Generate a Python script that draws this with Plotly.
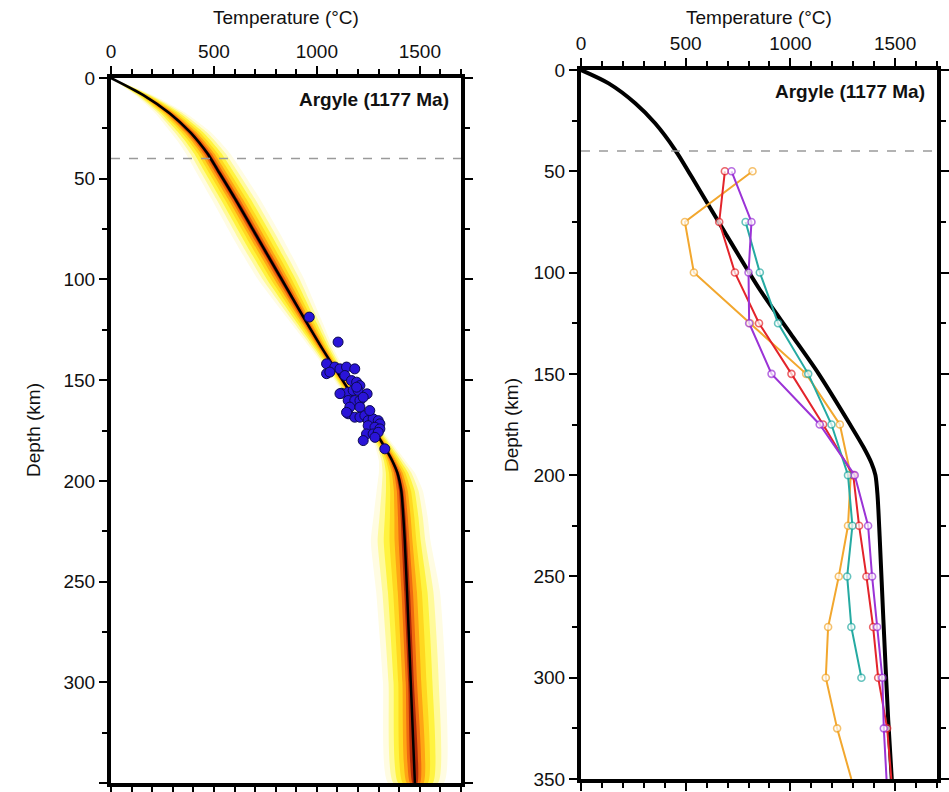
import plotly.graph_objects as go

# ---------------- Data ----------------
# Left panel: best-fit geotherm (depth km, temperature C)
geo_left_depth = [0, 8.5, 17.6, 26.7, 32, 37.4, 45.7, 60, 80, 100, 120, 135, 150, 165, 175, 183, 190, 196, 205, 218, 230, 255, 300, 350]
geo_left_temp = [0, 157, 286, 383, 428, 468, 518, 603, 716, 829, 942, 1030, 1124, 1218, 1280, 1328, 1366, 1391, 1410, 1420, 1427, 1438, 1456, 1476]
# spread of the probability envelope (C) to the cold / hot side at the same depths
env_cold = [2, 40, 70, 95, 100, 105, 110, 115, 120, 115, 80, 55, 40, 35, 35, 45, 65, 90, 120, 145, 165, 150, 135, 130]
env_hot = [2, 45, 80, 100, 105, 110, 115, 120, 120, 110, 80, 55, 40, 35, 40, 50, 65, 85, 105, 118, 125, 160, 170, 140]

# Xenolith P-T estimates
xen_temp = [963, 1103, 1047, 1047, 1087, 1112, 1144, 1184, 1136, 1168, 1193, 1209, 1120, 1152, 1176, 1200,
            1244, 1152, 1184, 1209, 1160, 1209, 1152, 1184, 1209, 1233, 1249, 1273, 1298, 1306, 1249, 1282,
            1306, 1241, 1273, 1298, 1225, 1282, 1330, 1193, 1225, 1257, 1063, 1112, 1144]
xen_depth = [118.7, 131.1, 141.9, 146.8, 143.5, 144.4, 143.5, 144.4, 147.7, 150.2, 151.0, 152.7, 156.5, 156.0,
             155.1, 155.1, 156.8, 160.1, 160.1, 160.1, 163.4, 163.4, 166.7, 168.4, 168.4, 167.6, 170.1, 169.2,
             170.1, 171.7, 172.6, 173.4, 174.2, 176.7, 176.7, 175.9, 180.0, 178.4, 184.1, 153.5, 158.5, 165.1,
             146.0, 156.7, 166.0]

# Right panel: geotherm
geo_right_depth = [0, 6.6, 16.4, 26.3, 39.5, 58.4, 80, 108.6, 130, 150, 175, 186, 194, 200, 210, 230, 271.5, 320.8, 350]
geo_right_temp = [0, 132, 259, 354, 450, 561, 686, 855, 1000, 1135, 1285, 1348, 1387, 1406, 1416, 1426, 1444, 1467, 1484]

# Right panel: temperature profiles from seismic models
prof_depth = [50, 75, 100, 125, 150, 175, 200, 225, 250, 275, 300, 325, 350]
prof_orange = [819, 496, 539, 808, 1075, 1236, 1288, 1275, 1231, 1180, 1169, 1223, 1291]
prof_red = [687, 660, 735, 850, 1005, 1156, 1300, 1328, 1363, 1395, 1419, 1462, 1482]
prof_teal_depth = [75, 100, 125, 150, 175, 200, 225, 250, 275, 300]
prof_teal = [786, 854, 941, 1085, 1196, 1275, 1296, 1271, 1291, 1339]
prof_purple = [719, 814, 800, 803, 910, 1140, 1307, 1371, 1390, 1414, 1439, 1446, 1459]

moho_depth = 40
panel_label = "Argyle (1177 Ma)"
x_title = "Temperature (°C)"
y_title = "Depth (km)"

# ---------------- Figure ----------------
FONT = "Liberation Sans, Arial, sans-serif"
fig = go.Figure()

# envelope layers, outermost first
layers = [(1.0, "#fffce2"), (0.8, "#fffa9a"), (0.62, "#fff340"), (0.45, "#ffd820"),
          (0.3, "#ffa514"), (0.18, "#f06a10"), (0.09, "#b02808")]
for frac, col in layers:
    xs = [t - frac * c for t, c in zip(geo_left_temp, env_cold)] + \
         [t + frac * h for t, h in zip(geo_left_temp[::-1], env_hot[::-1])]
    ys = list(geo_left_depth) + list(geo_left_depth[::-1])
    fig.add_trace(go.Scatter(x=xs, y=ys, fill="toself", fillcolor=col, mode="lines",
                             line=dict(width=0, color=col, shape="spline", smoothing=0.5),
                             hoverinfo="skip", showlegend=False, xaxis="x", yaxis="y"))

fig.add_trace(go.Scatter(x=geo_left_temp, y=geo_left_depth, mode="lines",
                         line=dict(color="black", width=2.5, shape="spline", smoothing=0.8),
                         showlegend=False, xaxis="x", yaxis="y"))
fig.add_trace(go.Scatter(x=xen_temp, y=xen_depth, mode="markers",
                         marker=dict(size=10, color="#2a14d8", line=dict(color="#0c0a50", width=1)),
                         showlegend=False, xaxis="x", yaxis="y"))

# right panel
fig.add_trace(go.Scatter(x=geo_right_temp, y=geo_right_depth, mode="lines",
                         line=dict(color="black", width=4, shape="spline", smoothing=0.8),
                         showlegend=False, xaxis="x2", yaxis="y2"))

series = [(prof_depth, prof_orange, "#f2a72e"), (prof_depth, prof_red, "#e3242b"),
          (prof_teal_depth, prof_teal, "#25aaa2"), (prof_depth, prof_purple, "#9b33d6")]
for dep, tem, col in series:
    sizes = [7] * len(dep)
    if dep[-1] >= 350:
        sizes[-1] = 0
    fig.add_trace(go.Scatter(x=tem, y=dep, mode="lines+markers",
                             line=dict(color=col, width=2),
                             marker=dict(symbol="circle", size=sizes, color="white",
                                         line=dict(color=col, width=1.6)),
                             cliponaxis=True, showlegend=False, xaxis="x2", yaxis="y2"))

W, H = 949, 792
L_dom = dict(x=[111 / W, 461 / W], y=[1 - 783 / H, 1 - 78 / H])
R_dom = dict(x=[581 / W, 937 / W], y=[1 - 779 / H, 1 - 70 / H])

tickfont = dict(family=FONT, size=19, color="#111")


def xax(domain, anchor):
    return dict(domain=domain, anchor=anchor, side="top", range=[0, 1700],
                tickmode="linear", tick0=0, dtick=500, ticks="outside", ticklen=8,
                tickwidth=1.5, tickcolor="black",
                minor=dict(dtick=100, tick0=0, ticks="outside", ticklen=5, tickwidth=1.5, tickcolor="black"),
                showline=True, linewidth=4, linecolor="black", mirror="allticks",
                showgrid=False, zeroline=False, tickfont=tickfont, automargin=False)


def yax(domain, anchor):
    return dict(domain=domain, anchor=anchor, range=[350, 0],
                tickmode="linear", tick0=0, dtick=50, ticks="outside", ticklen=8,
                tickwidth=1.5, tickcolor="black",
                minor=dict(dtick=25, tick0=0, ticks="outside", ticklen=5, tickwidth=1.5, tickcolor="black"),
                showline=True, linewidth=4, linecolor="black", mirror="allticks",
                showgrid=False, zeroline=False, tickfont=tickfont, automargin=False)


fig.update_layout(
    width=W, height=H, autosize=False,
    margin=dict(l=0, r=0, t=0, b=0),
    paper_bgcolor="white", plot_bgcolor="white",
    xaxis=xax(L_dom["x"], "y"), yaxis=yax(L_dom["y"], "x"),
    xaxis2=xax(R_dom["x"], "y2"), yaxis2=yax(R_dom["y"], "x2"),
    showlegend=False, hovermode=False,
)

# Moho dashed lines
for xr, yr in (("x domain", "y"), ("x2 domain", "y2")):
    fig.add_shape(type="line", xref=xr, yref=yr, x0=0, x1=1, y0=moho_depth, y1=moho_depth,
                  line=dict(color="#9a9a9a", width=1.5, dash="dash"), layer="above")

ann = []
for xr, yr in (("x", "y"), ("x2", "y2")):
    ann.append(dict(x=1650, y=10.8, xref=xr, yref=yr, text="<b>" + panel_label + "</b>",
                    showarrow=False, xanchor="right", yanchor="middle",
                    font=dict(family=FONT, size=19, color="#111")))
ann.append(dict(x=286 / W, y=1 - 18 / H, xref="paper", yref="paper", text=x_title, showarrow=False,
                xanchor="center", yanchor="middle", font=dict(family=FONT, size=19, color="#111")))
ann.append(dict(x=759 / W, y=1 - 18 / H, xref="paper", yref="paper", text=x_title, showarrow=False,
                xanchor="center", yanchor="middle", font=dict(family=FONT, size=19, color="#111")))
ann.append(dict(x=33 / W, y=1 - 430 / H, xref="paper", yref="paper", text=y_title, showarrow=False,
                textangle=-90, xanchor="center", yanchor="middle", font=dict(family=FONT, size=19, color="#111")))
ann.append(dict(x=511 / W, y=1 - 425 / H, xref="paper", yref="paper", text=y_title, showarrow=False,
                textangle=-90, xanchor="center", yanchor="middle", font=dict(family=FONT, size=19, color="#111")))
fig.update_layout(annotations=ann)

fig.write_html("out.html", config={"displayModeBar": False},
               post_script="document.body.style.margin='0px';")
